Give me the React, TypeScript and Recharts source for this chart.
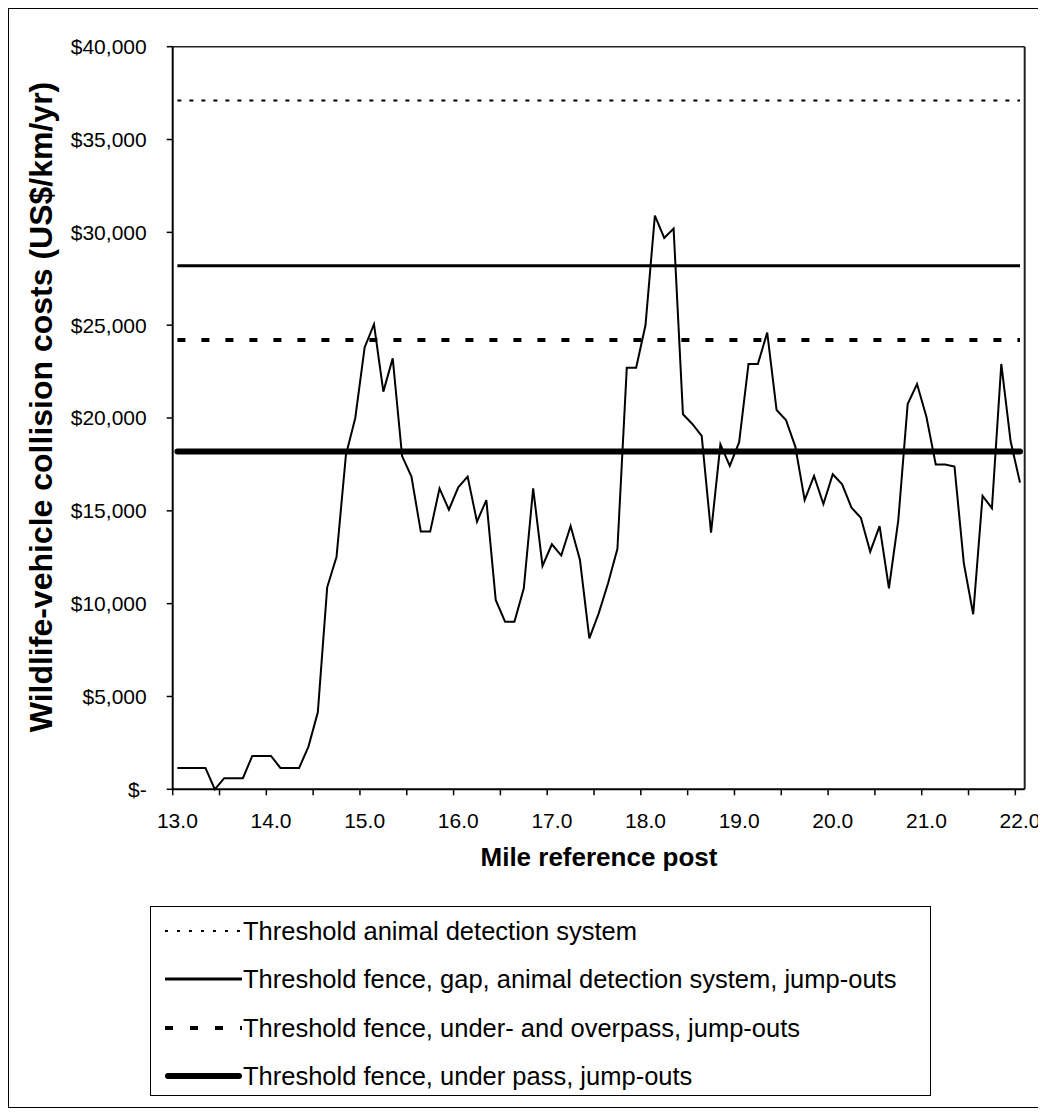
import { Line, LineChart, ReferenceLine, XAxis, YAxis } from "recharts";

const mileposts = [
  13.0, 13.1, 13.2, 13.3, 13.4, 13.5, 13.6, 13.7, 13.8, 13.9,
  14.0, 14.1, 14.2, 14.3, 14.4, 14.5, 14.6, 14.7, 14.8, 14.9,
  15.0, 15.1, 15.2, 15.3, 15.4, 15.5, 15.6, 15.7, 15.8, 15.9,
  16.0, 16.1, 16.2, 16.3, 16.4, 16.5, 16.6, 16.7, 16.8, 16.9,
  17.0, 17.1, 17.2, 17.3, 17.4, 17.5, 17.6, 17.7, 17.8, 17.9,
  18.0, 18.1, 18.2, 18.3, 18.4, 18.5, 18.6, 18.7, 18.8, 18.9,
  19.0, 19.1, 19.2, 19.3, 19.4, 19.5, 19.6, 19.7, 19.8, 19.9,
  20.0, 20.1, 20.2, 20.3, 20.4, 20.5, 20.6, 20.7, 20.8, 20.9,
  21.0, 21.1, 21.2, 21.3, 21.4, 21.5, 21.6, 21.7, 21.8, 21.9,
  22.0,
];

// US$/km/yr per 0.1 mile segment
const collisionCosts = [
  1150, 1150, 1150, 1150, 0, 600, 600, 600, 1800, 1800,
  1800, 1150, 1150, 1150, 2300, 4150, 10880, 12530, 18000, 20000,
  23800, 25050, 21420, 23220, 17950, 16840, 13880, 13880, 16210, 15060,
  16270, 16840, 14420, 15580, 10200, 9030, 9030, 10830, 16210, 12030,
  13200, 12590, 14180, 12350, 8130, 9480, 11100, 12950, 22710, 22710,
  25010, 30900, 29700, 30200, 20200, 19680, 19030, 13820, 18580, 17420,
  18700, 22910, 22910, 24600, 20430, 19890, 18460, 15580, 16880, 15370,
  16970, 16430, 15170, 14630, 12800, 14180, 10830, 14500, 20750, 21830,
  20070, 17500, 17500, 17380, 12170, 9430, 15800, 15140, 22910, 18730,
  16520,
];

const thresholdAnimalDetection = 37100;
const thresholdFenceGap = 28200;
const thresholdOverpass = 24200;
const thresholdUnderpass = 18200;

const yTicks = [0, 5000, 10000, 15000, 20000, 25000, 30000, 35000, 40000];
const xLabelTicks = [13, 14, 15, 16, 17, 18, 19, 20, 21, 22];
const xMarkTicks = [
  12.95, 13.45, 13.95, 14.45, 14.95, 15.45, 15.95, 16.45, 16.95, 17.45,
  17.95, 18.45, 18.95, 19.45, 19.95, 20.45, 20.95, 21.45, 21.95,
];

const legendItems = [
  { label: "Threshold animal detection system", width: 2, dash: "3 9", cap: "butt" },
  { label: "Threshold fence, gap, animal detection system, jump-outs", width: 3, dash: "", cap: "butt" },
  { label: "Threshold fence, under- and overpass, jump-outs", width: 4, dash: "8 17", cap: "butt" },
  { label: "Threshold fence, under pass, jump-outs", width: 6, dash: "", cap: "round" },
];

const FONT = "'Liberation Sans', Arial, sans-serif";

const rows = mileposts.map((mile, i) => ({
  mile,
  cost: collisionCosts[i],
  animalDetection: thresholdAnimalDetection,
  fenceGap: thresholdFenceGap,
  overpass: thresholdOverpass,
  underpass: thresholdUnderpass,
}));

const allXTicks = [...xMarkTicks, ...xLabelTicks].sort((a, b) => a - b);

function MileTick(props: any) {
  const { x, y, payload } = props;
  const v = payload.value as number;
  if (Math.abs(v - Math.round(v)) < 1e-6) {
    return (
      <text x={x} y={y + 39} textAnchor="middle" fontSize={21} fontFamily={FONT} fill="#000">
        {v.toFixed(1)}
      </text>
    );
  }
  return <line x1={x} x2={x} y1={y} y2={y + 6} stroke="#000" strokeWidth={1.5} />;
}

const money = (v: number) => (v === 0 ? "$-" : "$" + v.toLocaleString("en-US"));

export default function App() {
  return (
    <div
      style={{
        position: "relative",
        width: 1029,
        height: 1098,
        border: "1px solid #000",
        background: "#fff",
        fontFamily: FONT,
      }}
    >
      <style>{`html { overflow: hidden; }`}</style>

      <div
        style={{
          position: "absolute",
          left: 32 - 360,
          top: 398 - 18,
          width: 720,
          height: 36,
          lineHeight: "36px",
          textAlign: "center",
          fontSize: 32,
          fontWeight: "bold",
          transform: "rotate(-90deg)",
          whiteSpace: "nowrap",
        }}
      >
        Wildlife-vehicle collision costs (US$/km/yr)
      </div>

      <div
        style={{
          position: "absolute",
          left: 590 - 200,
          top: 835,
          width: 400,
          lineHeight: "26px",
          textAlign: "center",
          fontSize: 26,
          fontWeight: "bold",
        }}
      >
        Mile reference post
      </div>

      <div
        style={{
          position: "absolute",
          left: 141,
          top: 897,
          width: 781,
          height: 190,
          border: "1px solid #000",
          boxSizing: "border-box",
        }}
      >
        {legendItems.map((item, i) => (
          <div
            key={item.label}
            style={{
              position: "absolute",
              left: 0,
              top: 0 + i * 48.3,
              height: 48,
              display: "flex",
              alignItems: "center",
              whiteSpace: "nowrap",
            }}
          >
            <svg width={92} height={48} style={{ display: "block" }}>
              <line
                x1={item.cap === "round" ? 17 : 14}
                x2={item.cap === "round" ? 88 : 91}
                y1={24}
                y2={24}
                stroke="#000"
                strokeWidth={item.width}
                strokeDasharray={item.dash || undefined}
                strokeLinecap={item.cap as any}
              />
            </svg>
            <span style={{ fontSize: 25.5, lineHeight: "48px" }}>{item.label}</span>
          </div>
        ))}
      </div>

      <div style={{ position: "absolute", left: 0, top: 0 }}>
        <LineChart
          width={1036}
          height={860}
          data={rows}
          margin={{ top: 37.7, right: 20.3, bottom: 19.7, left: 0 }}
        >
          <XAxis
            dataKey="mile"
            type="number"
            domain={[12.95, 22.05]}
            allowDataOverflow
            ticks={allXTicks}
            interval={0}
            tick={<MileTick />}
            tickLine={false}
            tickSize={0}
            tickMargin={0}
            height={60}
            axisLine={{ stroke: "#000", strokeWidth: 2 }}
          />
          <YAxis
            type="number"
            domain={[0, 40000]}
            ticks={yTicks}
            interval={0}
            width={163.7}
            tickSize={6}
            tickMargin={20}
            tickFormatter={money}
            tick={{ fill: "#000", fontSize: 21, fontFamily: FONT }}
            tickLine={{ stroke: "#000", strokeWidth: 1.5 }}
            axisLine={{ stroke: "#000", strokeWidth: 2 }}
          />
          <ReferenceLine y={40000} stroke="#222" strokeWidth={1.5} />
          <ReferenceLine x={22.05} stroke="#222" strokeWidth={2} />
          <Line
            dataKey="animalDetection"
            type="linear"
            stroke="#000"
            strokeWidth={2}
            strokeDasharray="4 8"
            dot={false}
            isAnimationActive={false}
          />
          <Line
            dataKey="fenceGap"
            type="linear"
            stroke="#000"
            strokeWidth={3}
            dot={false}
            isAnimationActive={false}
          />
          <Line
            dataKey="overpass"
            type="linear"
            stroke="#000"
            strokeWidth={4}
            strokeDasharray="8 16"
            dot={false}
            isAnimationActive={false}
          />
          <Line
            dataKey="underpass"
            type="linear"
            stroke="#000"
            strokeWidth={6}
            strokeLinecap="round"
            dot={false}
            isAnimationActive={false}
          />
          <Line
            dataKey="cost"
            type="linear"
            stroke="#000"
            strokeWidth={2}
            dot={false}
            isAnimationActive={false}
          />
        </LineChart>
      </div>
    </div>
  );
}
